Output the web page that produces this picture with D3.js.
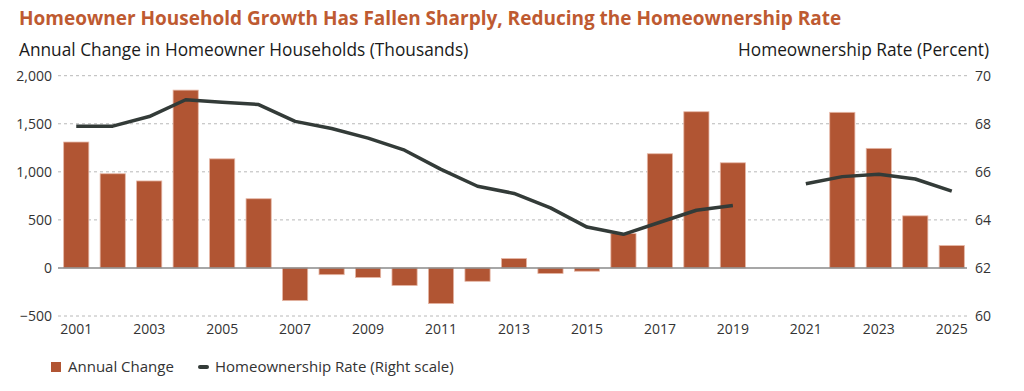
<!DOCTYPE html>
<html>
<head>
<meta charset="utf-8">
<script src="https://cdn.jsdelivr.net/npm/d3@7"></script>
<style>
  body { margin: 0; background: #ffffff; }
  text { font-family: "Open Sans", "Noto Sans", sans-serif; }
</style>
</head>
<body>
<div id="chart"></div>
<script>
// Homeowner household growth vs homeownership rate

var years = [2001, 2002, 2003, 2004, 2005, 2006, 2007, 2008, 2009, 2010, 2011, 2012, 2013,
             2014, 2015, 2016, 2017, 2018, 2019, 2020, 2021, 2022, 2023, 2024, 2025];

// annual change in homeowner households (thousands), null = no data
var annualChange = [1310, 980, 905, 1850, 1135, 720, -340, -70, -100, -183, -371, -139, 98,
                    -58, -34, 358, 1188, 1625, 1094, null, null, 1619, 1244, 542, 233];

// homeownership rate (percent)
var ownRate = [67.9, 67.9, 68.3, 69.0, 68.9, 68.8, 68.1, 67.8, 67.4, 66.9, 66.1, 65.4, 65.1,
               64.5, 63.7, 63.4, 63.9, 64.4, 64.6, null, 65.5, 65.8, 65.9, 65.7, 65.2];

var leftTicks = [-500, 0, 500, 1000, 1500, 2000];
var rightTicks = [60, 62, 64, 66, 68, 70];
var xTickYears = [2001, 2003, 2005, 2007, 2009, 2011, 2013, 2015, 2017, 2019, 2021, 2023, 2025];

var width = 1024;
var height = 391;
var plotLeft = 58, plotRight = 970;
var plotTop = 75.7, plotBottom = 316;

var svg = d3.select("#chart")
            .append("svg")
            .attr("width", width)
            .attr("height", height);

// scales
var x = d3.scaleBand()
          .domain(years)
          .range([plotLeft, plotRight])
          .paddingInner(0.31)
          .paddingOuter(0.155);

var yLeft = d3.scaleLinear()
              .domain([-500, 2000])
              .range([plotBottom, plotTop]);

var yRight = d3.scaleLinear()
               .domain([60, 70])
               .range([plotBottom, plotTop]);

// title + axis titles
svg.append("text")
   .attr("x", 19)
   .attr("y", 24.5)
   .attr("fill", "#be5a31")
   .attr("font-size", 19)
   .attr("font-weight", 700)
   .text("Homeowner Household Growth Has Fallen Sharply, Reducing the Homeownership Rate");

svg.append("text")
   .attr("x", 19)
   .attr("y", 56)
   .attr("fill", "#1a1a1a")
   .attr("font-size", 17.3)
   .text("Annual Change in Homeowner Households (Thousands)");

svg.append("text")
   .attr("x", 989)
   .attr("y", 56)
   .attr("text-anchor", "end")
   .attr("fill", "#1a1a1a")
   .attr("font-size", 17.3)
   .text("Homeownership Rate (Percent)");

// gridlines
svg.selectAll(".grid")
   .data(leftTicks.filter(function(d) { return d != 0; }))
   .enter()
   .append("line")
   .attr("class", "grid")
   .attr("x1", plotLeft)
   .attr("x2", 967)
   .attr("y1", function(d) { return yLeft(d); })
   .attr("y2", function(d) { return yLeft(d); })
   .attr("stroke", "#b8b8b8")
   .attr("stroke-width", 1)
   .attr("stroke-dasharray", "3,3");

// left axis
var leftAxis = svg.append("g")
   .attr("transform", "translate(" + (plotLeft - 3) + ",0)")
   .call(d3.axisLeft(yLeft).tickValues(leftTicks).tickSize(0).tickFormat(d3.format(",")));
leftAxis.select(".domain").remove();
leftAxis.selectAll("text").attr("font-size", 14).attr("fill", "#333").attr("dy", "0.35em");

// right axis
var rightAxis = svg.append("g")
   .attr("transform", "translate(972,0)")
   .call(d3.axisRight(yRight).tickValues(rightTicks).tickSize(0));
rightAxis.select(".domain").remove();
rightAxis.selectAll("text").attr("font-size", 14).attr("fill", "#333").attr("dy", "0.35em");

// bottom axis
var bottomAxis = svg.append("g")
   .attr("transform", "translate(0," + (plotBottom + 2) + ")")
   .call(d3.axisBottom(x).tickValues(xTickYears).tickSize(0));
bottomAxis.select(".domain").remove();
bottomAxis.selectAll("text").attr("font-size", 14).attr("fill", "#333").attr("dy", "0.9em");

// bars
var barData = years.map(function(y, i) { return { year: y, v: annualChange[i] }; })
                   .filter(function(d) { return d.v != null; });

svg.selectAll(".bar")
   .data(barData)
   .enter()
   .append("rect")
   .attr("class", "bar")
   .attr("x", function(d) { return x(d.year); })
   .attr("width", x.bandwidth())
   .attr("y", function(d) { return yLeft(Math.max(0, d.v)); })
   .attr("height", function(d) { return Math.abs(yLeft(d.v) - yLeft(0)); })
   .attr("fill", "#b15533")
   .attr("stroke", "#e6b7a6")
   .attr("stroke-width", 0.8);

// zero line
svg.append("line")
   .attr("x1", plotLeft)
   .attr("x2", 967)
   .attr("y1", yLeft(0))
   .attr("y2", yLeft(0))
   .attr("stroke", "#8a8a8a")
   .attr("stroke-width", 1.5);

// homeownership rate line
var lineData = years.map(function(y, i) { return { year: y, v: ownRate[i] }; });

var line = d3.line()
             .defined(function(d) { return d.v != null; })
             .x(function(d) { return x(d.year) + x.bandwidth() / 2; })
             .y(function(d) { return yRight(d.v); });

svg.append("path")
   .datum(lineData)
   .attr("d", line)
   .attr("fill", "none")
   .attr("stroke", "#333b38")
   .attr("stroke-width", 3.5)
   .attr("stroke-linejoin", "round");

// legend
var legend = svg.append("g");
legend.append("rect")
      .attr("x", 51).attr("y", 362)
      .attr("width", 10).attr("height", 10)
      .attr("fill", "#b15533");
legend.append("text")
      .attr("x", 68).attr("y", 372)
      .attr("font-size", 15).attr("fill", "#333")
      .text("Annual Change");
legend.append("line")
      .attr("x1", 200).attr("x2", 207)
      .attr("y1", 367).attr("y2", 367)
      .attr("stroke", "#333b38").attr("stroke-width", 4)
      .attr("stroke-linecap", "round");
legend.append("text")
      .attr("x", 215).attr("y", 372)
      .attr("font-size", 15).attr("fill", "#333")
      .text("Homeownership Rate (Right scale)");
</script>
</body>
</html>
